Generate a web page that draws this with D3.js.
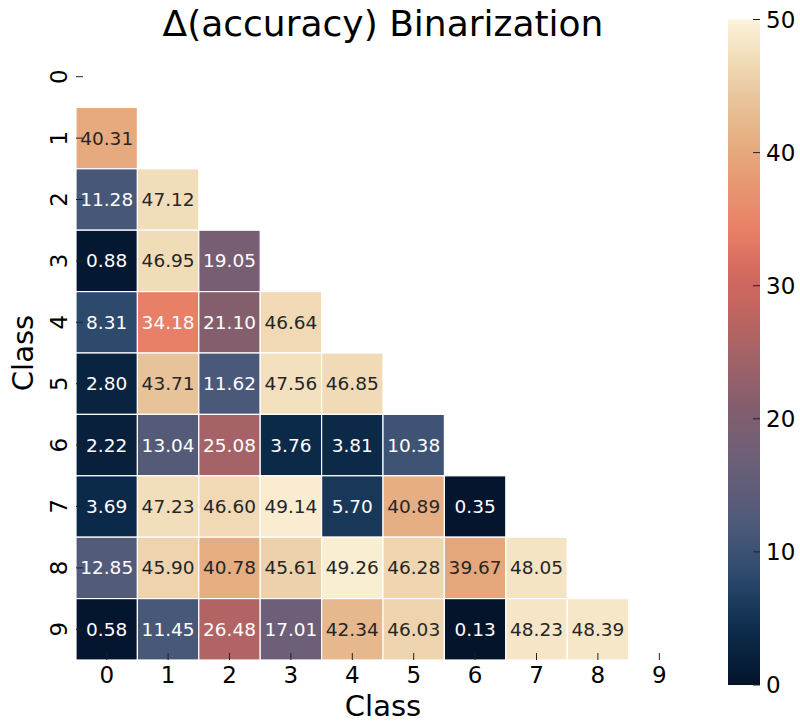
<!DOCTYPE html>
<html><head><meta charset="utf-8">
<script src="https://cdn.jsdelivr.net/npm/d3@7"></script>
<style>body{margin:0;background:#fff}svg{font-family:"DejaVu Sans",sans-serif}</style>
</head><body><svg id="c" width="800" height="722"></svg>
<script>
const classes = ["0","1","2","3","4","5","6","7","8","9"];
const row1 = [40.31];
const row2 = [11.28, 47.12];
const row3 = [0.88, 46.95, 19.05];
const row4 = [8.31, 34.18, 21.10, 46.64];
const row5 = [2.80, 43.71, 11.62, 47.56, 46.85];
const row6 = [2.22, 13.04, 25.08, 3.76, 3.81, 10.38];
const row7 = [3.69, 47.23, 46.60, 49.14, 5.70, 40.89, 0.35];
const row8 = [12.85, 45.90, 40.78, 45.61, 49.26, 46.28, 39.67, 48.05];
const row9 = [0.58, 11.45, 26.48, 17.01, 42.34, 46.03, 0.13, 48.23, 48.39];
const rows = [[], row1, row2, row3, row4, row5, row6, row7, row8, row9];
const cbTicks = [0, 10, 20, 30, 40, 50];
const stopVals = [0, 4, 8, 12, 17, 21, 25, 28, 31, 34, 37, 40, 44, 47, 50];
const stopCols = ["#03132a","#0c2b4a","#2a486b","#4d5a7a","#6c5f77","#845e6d","#a56367","#c0645f","#d4695f","#e77f65","#e8926f","#e6a87c","#e8c49a","#f1dcb8","#fcf3db"];

const color = d3.scaleLinear().domain(stopVals).range(stopCols).interpolate(d3.interpolateRgb).clamp(true);
const svg = d3.select("#c");
const L = 76, T = 46, S = 614;
const x = d3.scaleBand().domain(classes).range([L, L + S]);
const y = d3.scaleBand().domain(classes).range([T, T + S]);

const cells = [];
rows.forEach((r, i) => r.forEach((v, j) => cells.push({r: classes[i], c: classes[j], v})));

svg.append("g").selectAll("rect").data(cells).join("rect")
  .attr("x", d => x(d.c)).attr("y", d => y(d.r))
  .attr("width", x.bandwidth()).attr("height", y.bandwidth())
  .attr("fill", d => color(d.v)).attr("stroke", "#fff").attr("stroke-width", 1.2);

function lum(c){const o=d3.rgb(c);const f=v=>{v/=255;return v<=0.03928?v/12.92:Math.pow((v+0.055)/1.055,2.4)};return 0.2126*f(o.r)+0.7152*f(o.g)+0.0722*f(o.b);}
svg.append("g").selectAll("text").data(cells).join("text")
  .attr("x", d => x(d.c) + x.bandwidth()/2).attr("y", d => y(d.r) + y.bandwidth()/2)
  .attr("text-anchor", "middle").attr("dominant-baseline", "central")
  .attr("font-size", 18.5)
  .attr("fill", d => lum(color(d.v)) > 0.408 ? "#262626" : "#ffffff")
  .text(d => d.v.toFixed(2));

// x axis (ticks point inward)
const gx = svg.append("g");
classes.forEach(c => {
  const cx = x(c) + x.bandwidth()/2;
  gx.append("line").attr("x1", cx).attr("x2", cx).attr("y1", T+S).attr("y2", T+S-7).attr("stroke", "#222").attr("stroke-width", 1);
  gx.append("text").attr("x", cx).attr("y", T+S+23).attr("text-anchor","middle").attr("font-size", 23).text(c);
});
svg.append("text").attr("x", L+S/2).attr("y", 716).attr("text-anchor","middle").attr("font-size", 29).text("Class");

// y axis
const gy = svg.append("g");
classes.forEach(c => {
  const cy = y(c) + y.bandwidth()/2;
  gy.append("line").attr("x1", L).attr("x2", L+7).attr("y1", cy).attr("y2", cy).attr("stroke", "#222").attr("stroke-width", 1);
  gy.append("text").attr("transform", `translate(${L-9},${cy}) rotate(-90)`).attr("text-anchor","middle").attr("font-size", 23).text(c);
});
svg.append("text").attr("transform", `translate(33,${T+S/2}) rotate(-90)`).attr("text-anchor","middle").attr("font-size", 29).text("Class");

// title
svg.append("text").attr("x", L+S/2).attr("y", 36).attr("text-anchor","middle").attr("font-size", 36).text("Δ(accuracy) Binarization");

// colorbar
const cbX = 728, cbW = 32, cbT = 19.5, cbB = 685;
const cy2 = d3.scaleLinear().domain([0, 50]).range([cbB, cbT]);
const defs = svg.append("defs");
const grad = defs.append("linearGradient").attr("id","g").attr("x1",0).attr("x2",0).attr("y1",1).attr("y2",0);
d3.range(0, 50.01, 1).forEach(v => grad.append("stop").attr("offset", v/50).attr("stop-color", color(v)));
svg.append("rect").attr("x", cbX).attr("y", cbT).attr("width", cbW).attr("height", cbB-cbT).attr("fill","url(#g)");
const gc = svg.append("g");
cbTicks.forEach(t => {
  gc.append("line").attr("x1", cbX+cbW).attr("x2", cbX+cbW-7).attr("y1", cy2(t)).attr("y2", cy2(t)).attr("stroke","#222");
  gc.append("text").attr("x", cbX+cbW+6).attr("y", cy2(t)).attr("dominant-baseline","central").attr("font-size", 23).text(t);
});
</script></body></html>
